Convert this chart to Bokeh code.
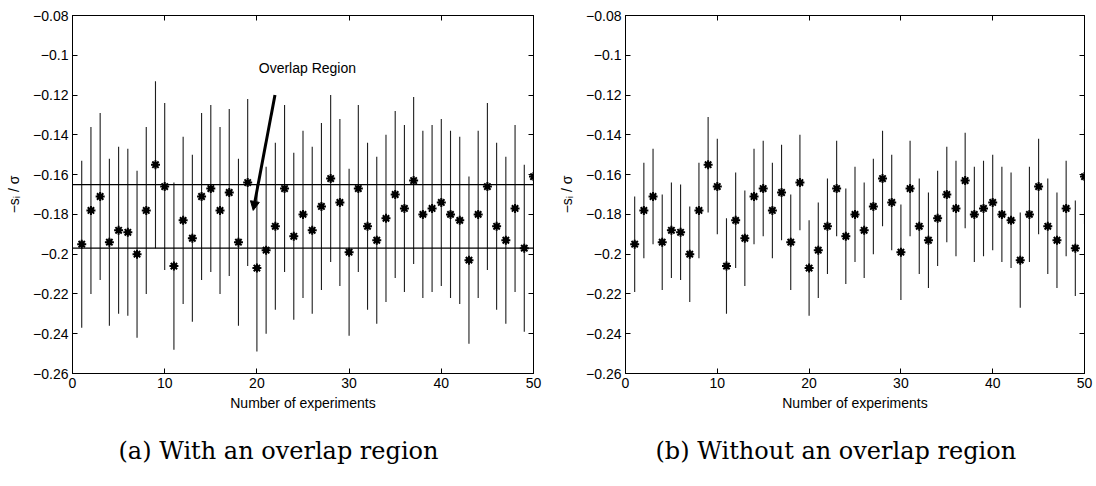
from bokeh.plotting import figure
from bokeh.layouts import row
from bokeh.models import (FixedTicker, LinearAxis, Span, Arrow, NormalHead, Label,
                          Title, Range1d, ColumnDataSource)
from bokeh.embed import file_html
from bokeh.resources import INLINE

# ---------------- data ----------------
experiments = list(range(1, 51))
means = [-0.195, -0.178, -0.171, -0.194, -0.188, -0.189, -0.200, -0.178, -0.155, -0.166,
         -0.206, -0.183, -0.192, -0.171, -0.167, -0.178, -0.169, -0.194, -0.164, -0.207,
         -0.198, -0.186, -0.167, -0.191, -0.180, -0.188, -0.176, -0.162, -0.174, -0.199,
         -0.167, -0.186, -0.193, -0.182, -0.170, -0.177, -0.163, -0.180, -0.177, -0.174,
         -0.180, -0.183, -0.203, -0.180, -0.166, -0.186, -0.193, -0.177, -0.197, -0.161]
half_width_with_overlap = 0.042
half_width_without_overlap = 0.024
overlap_bounds = [-0.165, -0.197]

x_ticks = [0, 10, 20, 30, 40, 50]
x_tick_labels = ["0", "10", "20", "30", "40", "50"]
y_ticks = [-0.26, -0.24, -0.22, -0.2, -0.18, -0.16, -0.14, -0.12, -0.1, -0.08]
y_tick_labels = ["\u22120.26", "\u22120.24", "\u22120.22", "\u22120.2", "\u22120.18",
                 "\u22120.16", "\u22120.14", "\u22120.12", "\u22120.1", "\u22120.08"]
x_label = "Number of experiments"
y_label = "\u2212s\u1d62 / \u03c3"
captions = ["(a) With an overlap region", "(b) Without an overlap region"]
annotation_text = "Overlap Region"
annotation_pos = [20.2, -0.1064]
arrow_tail = [21.96, -0.120]
arrow_tip = [19.6, -0.178]

SANS = "Liberation Sans"


def make_panel(half_width, caption, borders, cap_offset, overlap):
    left, right, top, bottom = borders
    p = figure(width=548, height=486, output_backend="svg", toolbar_location=None,
               x_range=Range1d(0, 50), y_range=Range1d(-0.26, -0.08),
               min_border_left=left, min_border_right=right,
               min_border_top=top, min_border_bottom=bottom)
    p.background_fill_color = "white"
    p.border_fill_color = "white"
    p.outline_line_color = "black"
    p.outline_line_width = 1
    p.xgrid.visible = False
    p.ygrid.visible = False

    src = ColumnDataSource(dict(
        x=experiments, y=means,
        lo=[m - half_width for m in means],
        hi=[m + half_width for m in means]))
    p.segment(x0="x", y0="lo", x1="x", y1="hi", source=src,
              line_color="#1e1e1e", line_width=1.1)
    p.scatter(x="x", y="y", source=src, marker="circle", size=5,
              fill_color="black", line_color="black")
    p.scatter(x="x", y="y", source=src, marker="asterisk", size=9,
              line_color="black", line_width=2)

    if overlap:
        for b in overlap_bounds:
            p.add_layout(Span(location=b, dimension="width", line_color="black",
                              line_width=1.3))
        p.add_layout(Arrow(x_start=arrow_tail[0], y_start=arrow_tail[1],
                           x_end=arrow_tip[0], y_end=arrow_tip[1],
                           line_width=3, line_color="black",
                           end=NormalHead(size=9, fill_color="black",
                                          line_color="black")))
        p.add_layout(Label(x=annotation_pos[0], y=annotation_pos[1],
                           text=annotation_text, text_font=SANS,
                           text_font_size="14px", text_baseline="middle",
                           text_color="black"))

    for ax in (p.xaxis[0], p.yaxis[0]):
        ax.axis_line_color = "black"
        ax.major_tick_line_color = "black"
        ax.major_tick_in = 5
        ax.major_tick_out = 0
        ax.minor_tick_line_color = None
        ax.major_label_text_font = SANS
        ax.major_label_text_font_size = "14px"
        ax.major_label_text_color = "black"
        ax.axis_label_text_font = SANS
        ax.axis_label_text_font_size = "14px"
        ax.axis_label_text_font_style = "normal"
        ax.axis_label_text_color = "black"
    p.xaxis.ticker = FixedTicker(ticks=x_ticks)
    p.xaxis.major_label_overrides = dict(zip(x_ticks, x_tick_labels))
    p.xaxis.axis_label = x_label
    p.xaxis.major_label_standoff = 4
    p.xaxis.axis_label_standoff = 4
    p.yaxis.ticker = FixedTicker(ticks=y_ticks)
    p.yaxis.major_label_overrides = dict(zip(y_ticks, y_tick_labels))
    p.yaxis.axis_label = y_label
    p.yaxis.major_label_standoff = 4
    p.yaxis.axis_label_standoff = 8

    top_ax = LinearAxis(ticker=FixedTicker(ticks=x_ticks), major_tick_in=5,
                        major_tick_out=0, minor_tick_line_color=None,
                        major_label_text_color=None, major_label_standoff=0,
                        axis_line_color="black")
    right_ax = LinearAxis(ticker=FixedTicker(ticks=y_ticks), major_tick_in=5,
                          major_tick_out=0, minor_tick_line_color=None,
                          major_label_text_color=None, major_label_standoff=0,
                          axis_line_color="black")
    p.add_layout(top_ax, "above")
    p.add_layout(right_ax, "right")

    p.add_layout(Title(text=caption, align="left", offset=cap_offset,
                       text_font="DejaVu Serif", text_font_size="24px",
                       text_font_style="normal", text_color="black",
                       standoff=42), "below")
    return p


p1 = make_panel(half_width_with_overlap, captions[0], (72, 15, 11, 113), 46, True)
p2 = make_panel(half_width_without_overlap, captions[1], (77, 12, 15, 110), 30, False)

layout = row(p1, p2)
open("out.html", "w").write(file_html(layout, INLINE))
